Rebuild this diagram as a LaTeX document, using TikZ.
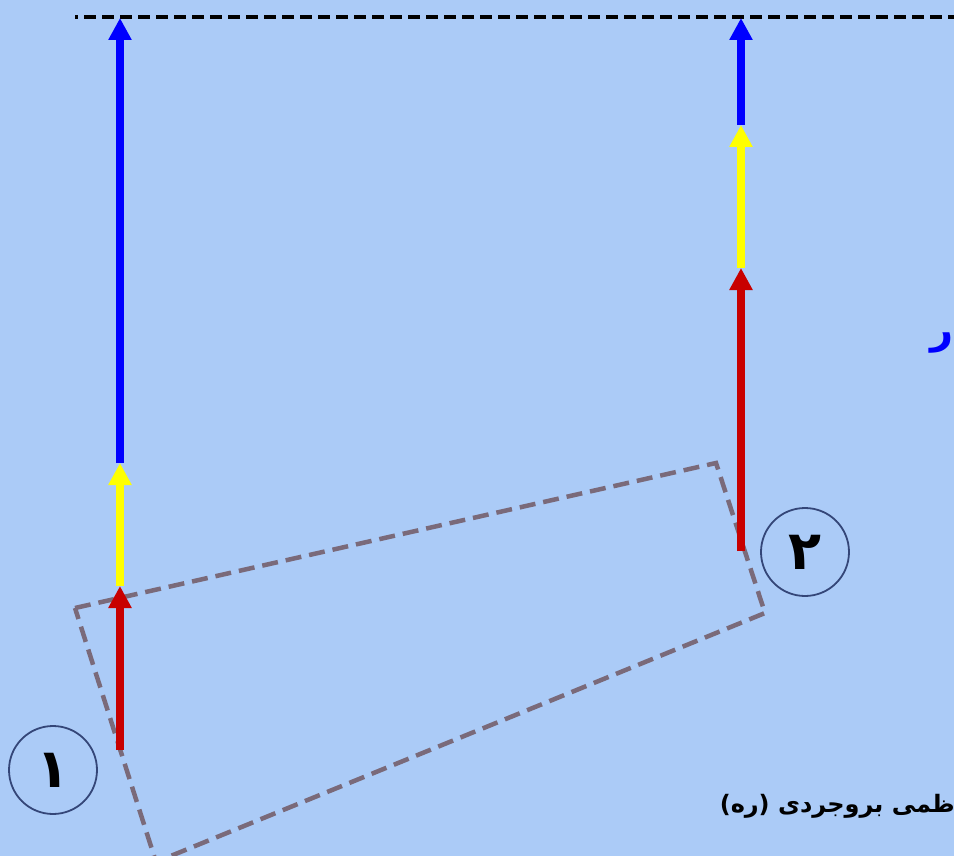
\documentclass[tikz,border=0pt]{standalone}
\usepackage{fontspec}
\usetikzlibrary{arrows.meta}
\TeXXeTstate=1
\newfontfamily\arabicfont[Script=Arabic]{DejaVu Sans}
\definecolor{bgblue}{RGB}{171,203,247}
\definecolor{boxgrey}{RGB}{122,106,122}
\definecolor{ringblue}{RGB}{52,70,120}
\definecolor{redarr}{RGB}{200,0,0}
\definecolor{yelarr}{RGB}{255,255,0}
\definecolor{bluearr}{RGB}{0,0,255}
\begin{document}
\begin{tikzpicture}[x=1pt,y=-1pt,
  vec/.style={line width=7.5pt,-{Triangle[length=22pt,width=22pt]}},
  ring/.style={circle,draw=ringblue,line width=1.8pt,minimum size=88pt,inner sep=0pt,font=\arabicfont\bfseries\fontsize{54}{58}\selectfont},
  boxline/.style={draw=boxgrey,line width=4.5pt,dash pattern=on 16pt off 8pt},
  topline/.style={draw=black,line width=3.5pt,dash pattern=on 12pt off 6pt,dash phase=9pt}]
\fill[bgblue] (0,0) rectangle (954,856);
\useasboundingbox (0,0) rectangle (954,856);
\begin{scope}
\clip (0,0) rectangle (954,856);
% reference line
\coordinate (t0) at (75,17);
\coordinate (t1) at (960,17);
\draw[topline] (t0) -- (t1);
% dashed box
\coordinate (b1) at (75,608);
\coordinate (b2) at (716,463);
\coordinate (b3) at (765,613);
\coordinate (b4) at (156,862);
\draw[boxline] (b1) -- (b2) -- (b3) -- (b4) -- cycle;
% left vectors
\coordinate (l0) at (120,750);
\coordinate (l1) at (120,586);
\coordinate (l2) at (120,463);
\coordinate (l3) at (120,18);
\draw[vec,redarr] (l0) -- (l1);
\draw[vec,yelarr] (l1) -- (l2);
\draw[vec,bluearr] (l2) -- (l3);
% right vectors
\coordinate (r0) at (741,551);
\coordinate (r1) at (741,268);
\coordinate (r2) at (741,125);
\coordinate (r3) at (741,18);
\draw[vec,redarr] (r0) -- (r1);
\draw[vec,yelarr] (r1) -- (r2);
\draw[vec,bluearr] (r2) -- (r3);
% labels
\node[ring] (c1) at (53,770) {\beginR ۱\endR};
\node[ring] (c2) at (805,552) {\beginR ۲\endR};
\node[anchor=east,inner sep=0pt,text=bluearr,font=\arabicfont\bfseries\fontsize{40}{44}\selectfont] (ra) at (954,343) {\beginR ر\endR};
\node[anchor=east,inner sep=0pt,font=\arabicfont\bfseries\fontsize{24}{28}\selectfont] (cap) at (955,806) {\beginR ظمی بروجردی (ره)\endR};
\end{scope}
\end{tikzpicture}
\end{document}
